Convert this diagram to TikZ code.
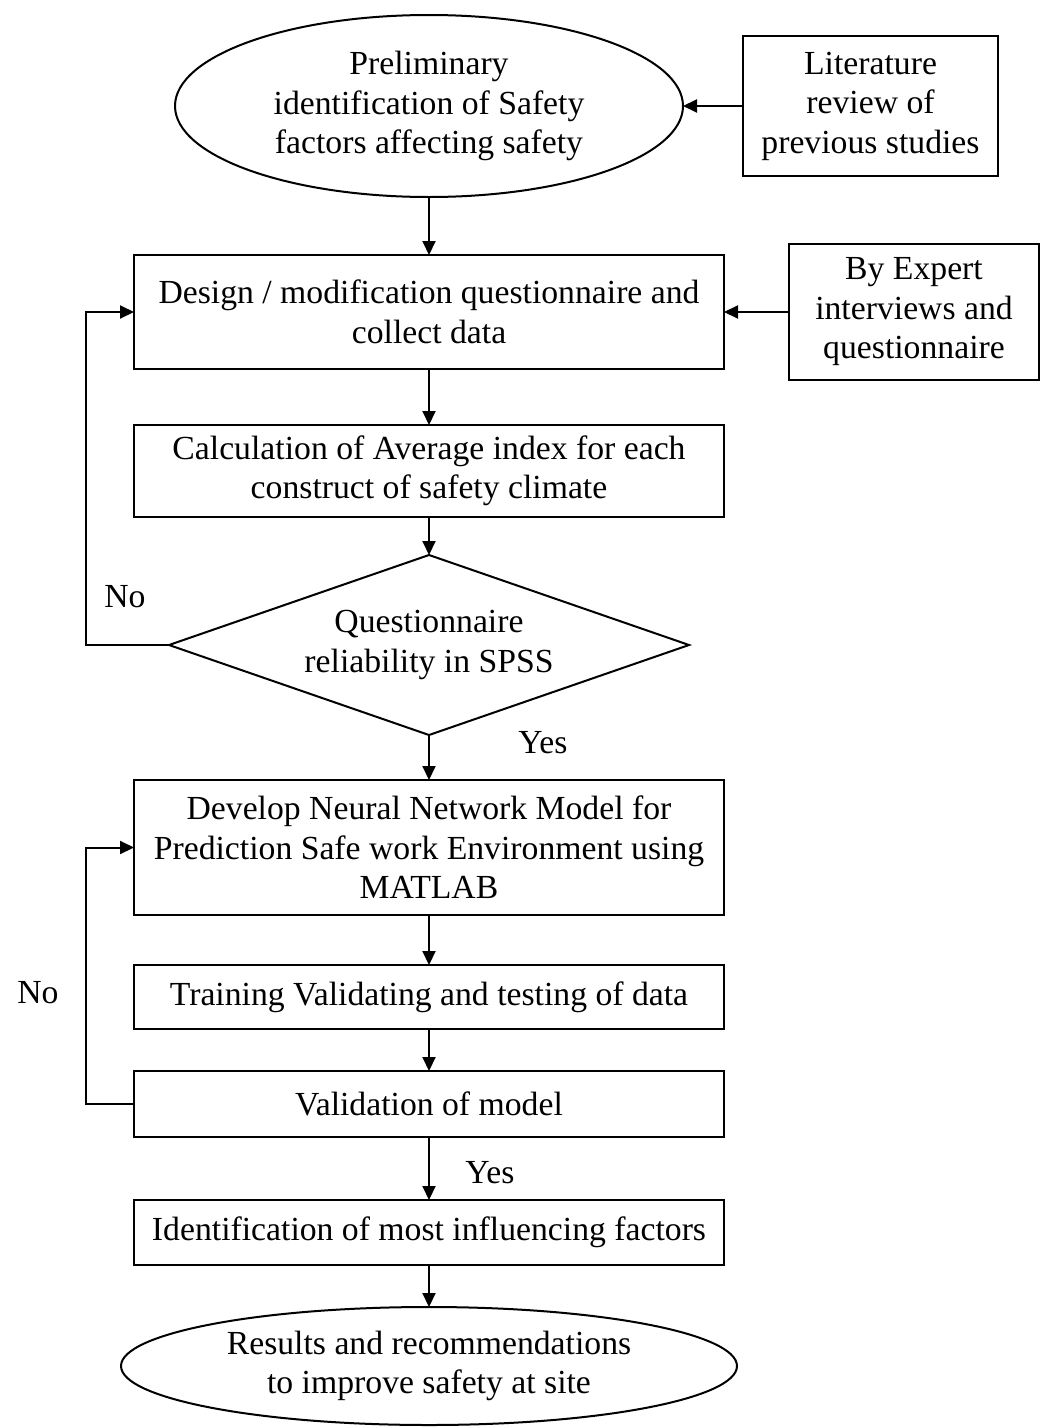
\documentclass[tikz,border=0pt]{standalone}
\usepackage{fontspec}
\setmainfont{Liberation Serif}
\usetikzlibrary{arrows.meta,positioning,shapes.geometric}

\begin{document}
\begin{tikzpicture}[x=1pt,y=1pt,line width=2pt,
  every node/.style={font=\fontsize{33.7}{39.5}\selectfont,align=center,inner sep=0pt,outer sep=0pt},
  box/.style={draw,rectangle,minimum width=590pt},
  side/.style={draw,rectangle},
  oval/.style={draw,ellipse},
  arr/.style={-{Triangle[length=14pt,width=13pt]}}]
 \useasboundingbox (0,0) rectangle (1040,-1427);
 \node[oval,minimum width=508pt,minimum height=182pt] (pre) at (429,-106) {Preliminary\\ identification of Safety\\ factors affecting safety};
 \node[side,minimum width=255pt,minimum height=140pt,right=60pt of pre] (lit) {Literature\\ review of\\ previous studies};
 \node[box,minimum height=114pt,below=58pt of pre] (des) {Design / modification questionnaire and\\ collect data};
 \node[side,minimum width=250pt,minimum height=136pt,right=65pt of des] (exp) {By Expert\\ interviews and\\ questionnaire};
 \node[box,minimum height=92pt,below=56pt of des] (calc) {Calculation of Average index for each\\ construct of safety climate};
 \node[draw,diamond,aspect=2.9,minimum width=520pt,minimum height=180pt,below=38pt of calc] (rel) {Questionnaire\\ reliability in SPSS};
 \node[box,minimum height=135pt,below=45pt of rel] (nn) {Develop Neural Network Model for\\ Prediction Safe work Environment using\\ MATLAB};
 \node[box,minimum height=64pt,below=50pt of nn] (train) {Training Validating and testing of data};
 \node[box,minimum height=66pt,below=42pt of train] (val) {Validation of model};
 \node[box,minimum height=65pt,below=63pt of val] (ident) {Identification of most influencing factors};
 \node[oval,minimum width=616pt,minimum height=118pt,below=42pt of ident] (res) {Results and recommendations\\ to improve safety at site};
 % labels
 \node (no1) at (125,-597) {No};
 \node (yes1) at (543,-743) {Yes};
 \node (no2) at (38,-993) {No};
 \node (yes2) at (490,-1173) {Yes};
 % main flow
 \draw[arr] (lit) -- (pre);
 \draw[arr] (exp) -- (des);
 \draw[arr] (pre) -- (des);
 \draw[arr] (des) -- (calc);
 \draw[arr] (calc) -- (rel);
 \draw[arr] (rel) -- (nn);
 \draw[arr] (nn) -- (train);
 \draw[arr] (train) -- (val);
 \draw[arr] (val) -- (ident);
 \draw[arr] (ident) -- (res);
 % loops back
 \draw[arr] (rel.west) -- ++(-83,0) |- (des.west);
 \draw[arr] (val.west) -- ++(-48,0) |- (nn.west);
\end{tikzpicture}
\end{document}
